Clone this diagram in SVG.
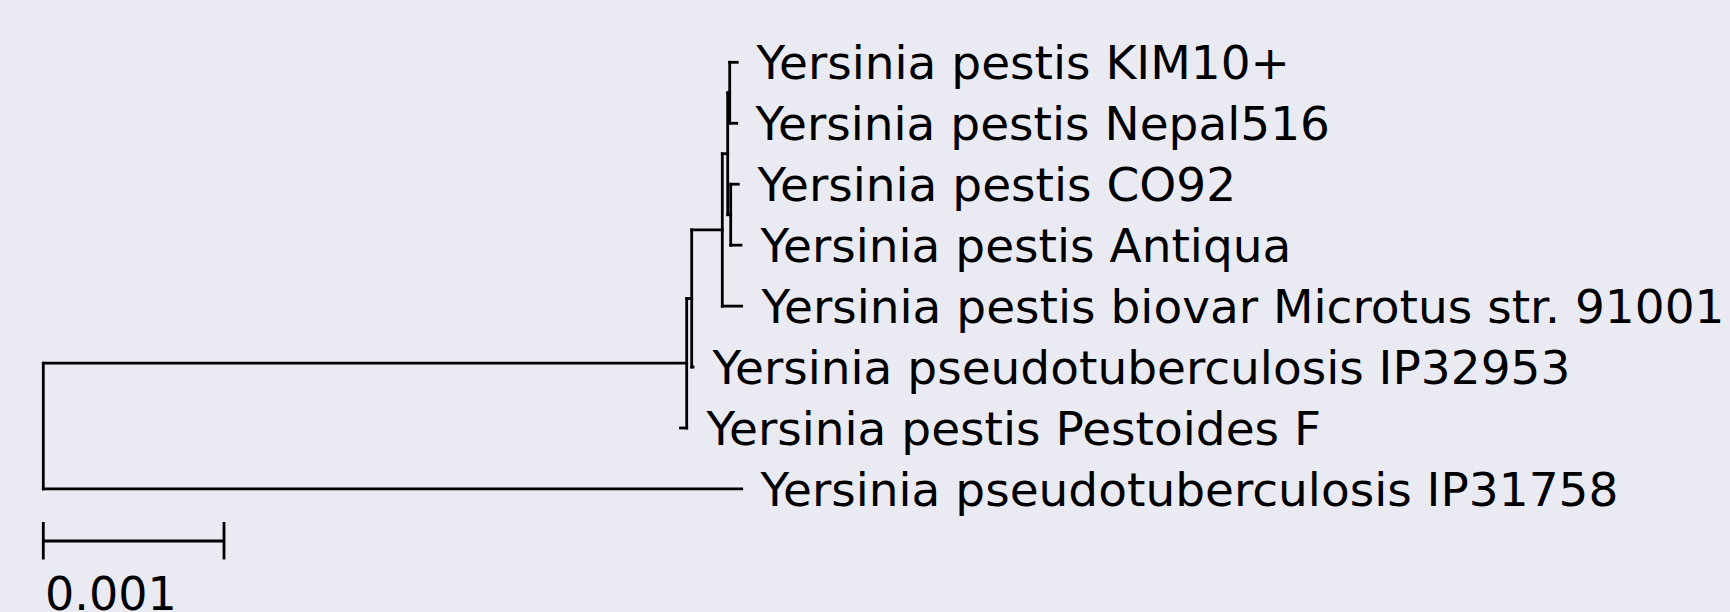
<svg xmlns="http://www.w3.org/2000/svg" width="1730" height="612" viewBox="0 0 1730 612">
  <style>
    .br { fill: none; stroke: #000; stroke-width: 2.8; stroke-linecap: square; }
    .lbl { font-family: "DejaVu Sans", sans-serif; font-size: 47px; fill: #000; }
    .scl { font-family: "DejaVu Sans", sans-serif; font-size: 46px; fill: #000; }
  </style>
  <rect width="1730" height="612" fill="#eaeaf2"/>

  <!-- branches: vertical spans at internal nodes, horizontal runs to children -->
  <g id="connectors" class="br">
    <!-- root -->
    <path d="M43.3 363.2 V488.95"/>
    <path d="M43.3 363.2 H686.7"/>
    <path d="M43.3 488.95 H741.7"/>
    <!-- node B -->
    <path d="M686.7 298.5 V428"/>
    <path d="M686.7 298.5 H691.7"/>
    <path d="M686.7 428 H680.5"/>
    <!-- node C -->
    <path d="M691.7 229.9 V367.05"/>
    <path d="M691.7 229.9 H722.3"/>
    <path d="M691.7 367.05 H693"/>
    <!-- node D -->
    <path d="M722.3 153.7 V306.1"/>
    <path d="M722.3 153.7 H727.7"/>
    <path d="M722.3 306.1 H741.7"/>
    <!-- node E -->
    <path d="M727.7 92.8 V214.7"/>
    <path d="M727.7 92.8 H729.7"/>
    <path d="M727.7 214.7 H730.7"/>
    <!-- node F -->
    <path d="M729.7 62.3 V123.25"/>
    <path d="M729.7 62.3 H737.3"/>
    <path d="M729.7 123.25 H736.7"/>
    <!-- node G -->
    <path d="M730.7 184.2 V245.15"/>
    <path d="M730.7 184.2 H738.3"/>
    <path d="M730.7 245.15 H741"/>
  </g>

  <!-- leaves -->
  <g id="kim10"><text class="lbl" x="756.5" y="79.3">Yersinia pestis KIM10+</text></g>
  <g id="nepal516"><text class="lbl" x="755.5" y="140.2">Yersinia pestis Nepal516</text></g>
  <g id="co92"><text class="lbl" x="757.5" y="201.2">Yersinia pestis CO92</text></g>
  <g id="antiqua"><text class="lbl" x="760.5" y="262.1">Yersinia pestis Antiqua</text></g>
  <g id="microtus"><text class="lbl" x="761.5" y="323.1">Yersinia pestis biovar Microtus str. 91001</text></g>
  <g id="ip32953"><text class="lbl" x="712.5" y="384">Yersinia pseudotuberculosis IP32953</text></g>
  <g id="pestoides"><text class="lbl" x="706.5" y="445">Yersinia pestis Pestoides F</text></g>
  <g id="ip31758"><text class="lbl" x="760.5" y="505.9">Yersinia pseudotuberculosis IP31758</text></g>

  <!-- scale bar -->
  <g id="scale">
    <path class="br" d="M43.3 541 H224 M43.3 522 V559.5 M224 522 V559.5" style="stroke-linecap:butt"/>
    <text class="scl" x="45" y="610">0.001</text>
  </g>
</svg>
